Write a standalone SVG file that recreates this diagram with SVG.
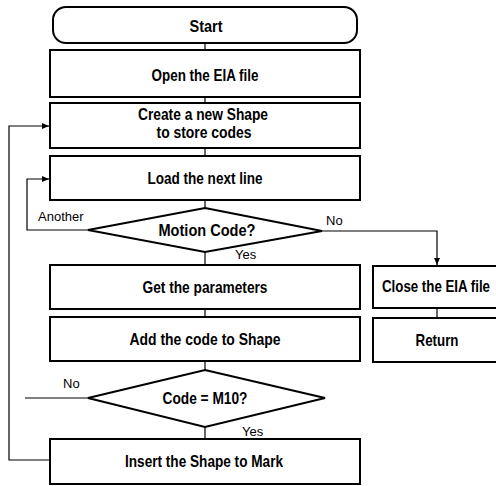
<svg xmlns="http://www.w3.org/2000/svg" width="496" height="486" viewBox="0 0 496 486">
<style>
.box{fill:#fff;stroke:#000;stroke-width:2}
.t{font-family:"Liberation Sans",Arial,sans-serif;font-weight:bold;font-size:17px;fill:#000;text-anchor:middle}
.t2{font-size:16px}
.l{font-family:"Liberation Sans",Arial,sans-serif;font-size:13px;fill:#000}
.c{fill:none;stroke:#000;stroke-width:1.2}
</style>
<defs>
<marker id="arr" markerWidth="8" markerHeight="8" refX="7" refY="4" orient="auto" markerUnits="userSpaceOnUse">
<path d="M0,1 L7,4 L0,7 Z" fill="#000"/>
</marker>
</defs>
<rect width="496" height="486" fill="#fff"/>
<g id="connectors">
<line class="c" x1="205" y1="43" x2="205" y2="50"/>
<line class="c" x1="205" y1="97" x2="205" y2="103"/>
<line class="c" x1="205" y1="148" x2="205" y2="156"/>
<line class="c" x1="205" y1="200" x2="205" y2="208"/>
<line class="c" x1="205" y1="252" x2="205" y2="265"/>
<line class="c" x1="205" y1="309" x2="205" y2="317"/>
<line class="c" x1="205" y1="361" x2="205" y2="370"/>
<line class="c" x1="205" y1="427" x2="205" y2="439"/>
<polyline class="c" points="88,230 27,230 27,179 49,179" marker-end="url(#arr)"/>
<polyline class="c" points="322,231 437,231 437,265" marker-end="url(#arr)"/>
<line class="c" x1="437" y1="308" x2="437" y2="318"/>
<line class="c" x1="88" y1="398" x2="25" y2="398"/>
<polyline class="c" points="50,460 9,460 9,126 49,126" marker-end="url(#arr)"/>
<text class="l" x="38" y="221">Another</text>
<text class="l" x="326" y="225">No</text>
<text class="l" x="235" y="259">Yes</text>
<text class="l" x="63" y="388">No</text>
<text class="l" x="242" y="436">Yes</text>
</g>
<g id="start">
<rect class="box" x="53" y="7" width="304" height="36" rx="13"/>
<text class="t" x="206" y="32" textLength="33" lengthAdjust="spacingAndGlyphs">Start</text>
</g>
<g id="open">
<rect class="box" x="50" y="50" width="310" height="47"/>
<text class="t" x="205" y="81" textLength="107" lengthAdjust="spacingAndGlyphs">Open the EIA file</text>
</g>
<g id="create">
<rect class="box" x="50" y="103" width="310" height="45"/>
<text class="t t2" x="203" y="120" textLength="130" lengthAdjust="spacingAndGlyphs">Create a new Shape</text>
<text class="t t2" x="204" y="138" textLength="95" lengthAdjust="spacingAndGlyphs">to store codes</text>
</g>
<g id="load">
<rect class="box" x="50" y="156" width="310" height="44"/>
<text class="t" x="205" y="184" textLength="115" lengthAdjust="spacingAndGlyphs">Load the next line</text>
</g>
<g id="motion">
<polygon class="box" points="205,208 322,231 205,252 88,230"/>
<text class="t" x="207" y="236" textLength="97" lengthAdjust="spacingAndGlyphs">Motion Code?</text>
</g>
<g id="getparams">
<rect class="box" x="50" y="265" width="310" height="44"/>
<text class="t" x="205" y="293" textLength="125" lengthAdjust="spacingAndGlyphs">Get the parameters</text>
</g>
<g id="addcode">
<rect class="box" x="50" y="317" width="310" height="44"/>
<text class="t" x="205" y="345" textLength="151" lengthAdjust="spacingAndGlyphs">Add the code to Shape</text>
</g>
<g id="m10">
<polygon class="box" points="205,370 325,398 205,427 88,398"/>
<text class="t" x="205" y="404" textLength="85" lengthAdjust="spacingAndGlyphs">Code = M10?</text>
</g>
<g id="insert">
<rect class="box" x="50" y="439" width="310" height="45"/>
<text class="t" x="204" y="467" textLength="158" lengthAdjust="spacingAndGlyphs">Insert the Shape to Mark</text>
</g>
<g id="close">
<rect class="box" x="373" y="266" width="129" height="42"/>
<text class="t" x="436" y="292" textLength="108" lengthAdjust="spacingAndGlyphs">Close the EIA file</text>
</g>
<g id="return">
<rect class="box" x="373" y="318" width="129" height="44"/>
<text class="t" x="437" y="346" textLength="43" lengthAdjust="spacingAndGlyphs">Return</text>
</g>
</svg>
